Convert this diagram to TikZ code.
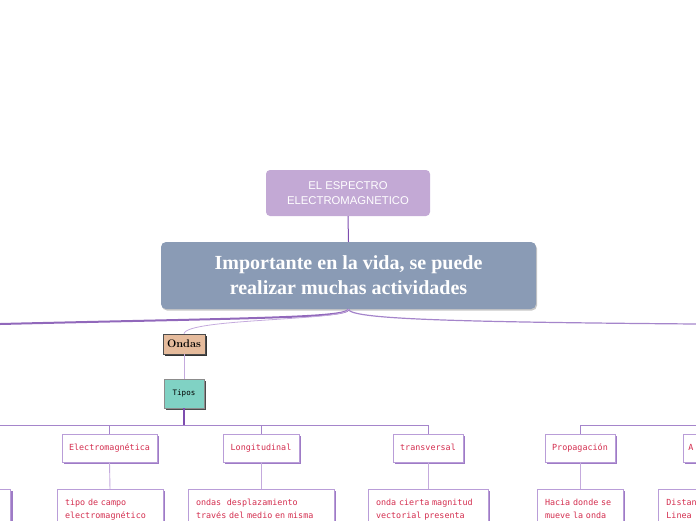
\documentclass[tikz,border=0pt]{standalone}
\usepackage{fontspec}
\newfontfamily\slabfont{Liberation Serif}
\newfontfamily\titlefont{Liberation Sans}
\newfontfamily\monofont{DejaVu Sans Mono}
\definecolor{titlefill}{HTML}{C3A9D5}
\definecolor{mainfill}{HTML}{8A9BB5}
\definecolor{ondasfill}{HTML}{E5BB9C}
\definecolor{tiposfill}{HTML}{80D2C4}
\definecolor{linelight}{HTML}{C4AADD}
\definecolor{linedark}{HTML}{7E4DAF}
\definecolor{linemid}{HTML}{A585CB}
\definecolor{bordercol}{HTML}{B99DD8}
\definecolor{shadowcol}{HTML}{9E7BC6}
\definecolor{textred}{HTML}{D42E4F}
\begin{document}
\begin{tikzpicture}[x=1pt,y=-1pt,
  titlebox/.style={rectangle, rounded corners=4pt, fill=titlefill, text=white,
    align=center, inner sep=0pt, font={\titlefont\fontsize{11.3}{15}\selectfont}},
  mainbox/.style={rectangle, rounded corners=5pt, fill=mainfill, text=white,
    align=center, inner sep=0pt,
    preaction={fill=black!22, rounded corners=5pt, transform canvas={xshift=1pt,yshift=-1.5pt}},
    font={\slabfont\bfseries\fontsize{20}{25}\selectfont}},
  ondasbox/.style={rectangle, fill=ondasfill, draw=black!70, line width=0.4pt,
    inner sep=0pt, preaction={fill=black!80, transform canvas={xshift=2pt,yshift=-2pt}},
    font={\fontsize{11}{12}\selectfont\bfseries}},
  tiposbox/.style={rectangle, fill=tiposfill, draw=black!45, line width=0.4pt,
    inner sep=0pt, preaction={fill=black!70, transform canvas={xshift=2pt,yshift=-2pt}},
    font={\monofont\fontsize{7.5}{9}\selectfont}},
  childbox/.style={rectangle, fill=white, draw=bordercol, line width=0.8pt,
    inner sep=0pt, minimum height=28pt, text=textred, text height=6pt, text depth=1.5pt,
    preaction={fill=shadowcol, transform canvas={xshift=2pt,yshift=-2pt}},
    font={\monofont\fontsize{8.4}{14}\selectfont}},
  descbox/.style={rectangle, fill=white, draw=bordercol, line width=0.8pt,
    inner xsep=8pt, inner ysep=9.5pt, align=left, text=textred,
    preaction={fill=shadowcol, transform canvas={xshift=2pt,yshift=-2pt}},
    font={\monofont\fontsize{8.4}{13.5}\selectfont}},
  conn/.style={draw=linelight, line width=0.9pt},
  bus/.style={draw=linemid, line width=0.9pt}
]
\useasboundingbox (0,0) rectangle (696,520);
\clip (0,0) rectangle (696,520);

% top nodes
\node[titlebox, minimum width=164pt, minimum height=46pt] (title) at (348,193)
  {EL ESPECTRO\\ELECTROMAGNETICO};
\node[mainbox, minimum width=375pt, minimum height=67pt] (main) at (348.5,275.5)
  {Importante en la vida, se puede\\realizar muchas actividades};

\node[ondasbox, minimum width=42pt, minimum height=20pt] (ondas) at (184,344) {Ondas};
\node[tiposbox, minimum width=40pt, minimum height=29pt] (tipos) at (184,393.5) {Tipos};

% children
\node[childbox, minimum width=95pt] (elec) at (109.5,448) {Electromagnética};
\node[childbox, minimum width=76pt] (long) at (261,448) {Longitudinal};
\node[childbox, minimum width=70pt] (trans) at (428,448) {transversal};
\node[childbox, minimum width=70pt] (prop) at (580,448) {Propagación};
\node[childbox, minimum width=60pt, text width=50pt, align=left, inner xsep=5pt,
  anchor=west] (abox) at (683,448) {A};

% descriptions
\node[descbox, text width=90pt, anchor=north] (elecd) at (110,489)
  {tipo de campo\\electromagnético};
\node[descbox, text width=130pt, anchor=north] (longd) at (261,489)
  {ondas~ desplazamiento\\través del medio en misma};
\node[descbox, text width=104pt, anchor=north] (transd) at (428,489)
  {onda cierta magnitud\\vectorial presenta};
\node[descbox, text width=70pt, anchor=north] (propd) at (580,489)
  {Hacia donde se\\mueve la onda};
\node[descbox, text width=84pt, anchor=north east, minimum height=50pt] (leftd) at (11,489) {};
\node[descbox, text width=90pt, anchor=north west] (ad) at (658,489)
  {Distan\\Linea};

% connectors
\coordinate (Lend) at (0,324);
\coordinate (Rend) at (696,324);
\coordinate (busL) at (0,425);
\coordinate (busR) at (696,425);

\draw[draw=linedark, line width=1pt] (title.south) -- (main.north);
\draw[draw=linedark!85, line width=2pt] (main.south) .. controls (348,318) and (250,318) .. (Lend);
\draw[draw=linemid, line width=1.2pt] (main.south) .. controls (350,319) and (450,322) .. (Rend);
\draw[conn, line width=0.8pt] (main.south) .. controls (348,321) and (186,318) .. (ondas.north);
\draw[conn] (ondas.south) -- (tipos.north);

\draw[bus] (busL) -| (trans.north);
\draw[draw=linedark, line width=1.2pt] (tipos.south) -- (tipos.south |- busL);
\draw[bus] (elec.north) -- (elec.north |- busL);
\draw[bus] (long.north) -- (long.north |- busL);
\draw[bus] (prop.north) |- (busR);

\draw[conn] (elec.south) -- (elecd.north);
\draw[conn] (long.south) -- (longd.north);
\draw[conn] (trans.south) -- (transd.north);
\draw[conn] (prop.south) -- (propd.north);
\end{tikzpicture}
\end{document}
